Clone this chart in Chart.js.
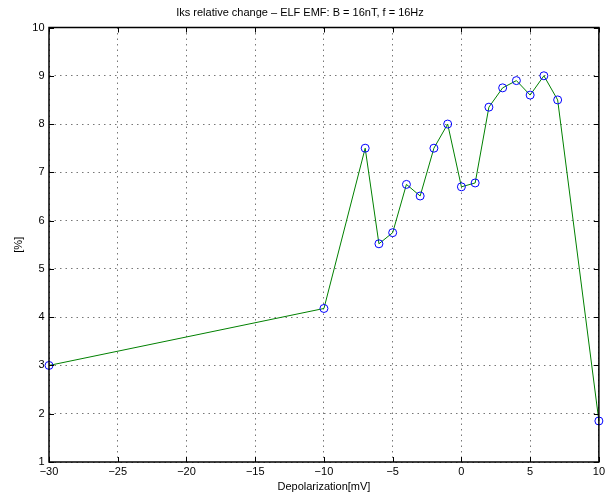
<!DOCTYPE html>
<html><head><meta charset="utf-8">
<script src="https://cdn.jsdelivr.net/npm/chart.js@4"></script>
<style>html,body{margin:0;padding:0;background:#fff}#w{width:608px;height:499px}</style>
</head><body><div id="w"><canvas id="c" width="608" height="499"></canvas></div>
<script>
const depolarization = [-30, -10, -7, -6, -5, -4, -3, -2, -1, 0, 1, 2, 3, 4, 5, 6, 7, 10];
const iksChange = [3.0, 4.18, 7.5, 5.52, 5.75, 6.75, 6.51, 7.5, 8.0, 6.7, 6.78, 8.35, 8.75, 8.9, 8.6, 9.0, 8.5, 1.85];
const xTicks = [-30, -25, -20, -15, -10, -5, 0, 5, 10];
const yTicks = [1, 2, 3, 4, 5, 6, 7, 8, 9, 10];
const titleText = 'Iks relative change \u2013 ELF EMF: B = 16nT, f = 16Hz';
const xLabel = 'Depolarization[mV]';
const yLabel = '[%]';

const FONT = 'Liberation Sans, Arial, Helvetica, sans-serif';
const fmt = v => (v < 0 ? '\u2212' + Math.abs(v) : String(v));

const boxPlugin = {
  id: 'box',
  afterDraw(chart) {
    const {ctx, chartArea: a, scales} = chart;
    ctx.save();
    ctx.strokeStyle = '#000';
    ctx.lineWidth = 1;
    ctx.setLineDash([]);
    const L = 5;
    ctx.beginPath();
    xTicks.forEach(v => {
      const x = Math.round(scales.x.getPixelForValue(v)) + 0.5;
      ctx.moveTo(x, a.bottom); ctx.lineTo(x, a.bottom - L);
      ctx.moveTo(x, a.top); ctx.lineTo(x, a.top + L);
    });
    yTicks.forEach(v => {
      const y = Math.round(scales.y.getPixelForValue(v)) + 0.5;
      ctx.moveTo(a.left, y); ctx.lineTo(a.left + L, y);
      ctx.moveTo(a.right, y); ctx.lineTo(a.right - L, y);
    });
    ctx.stroke();
    ctx.lineWidth = 1.5;
    ctx.strokeRect(a.left, a.top, a.right - a.left, a.bottom - a.top);
    ctx.restore();
  }
};

new Chart(document.getElementById('c'), {
  type: 'scatter',
  data: {
    datasets: [{
      data: depolarization.map((x, i) => ({x, y: iksChange[i]})),
      showLine: true,
      borderColor: '#008000',
      borderWidth: 1,
      pointStyle: 'circle',
      pointRadius: 4,
      pointBorderColor: '#0000ff',
      pointBackgroundColor: 'rgba(0,0,0,0)',
      pointBorderWidth: 1,
      tension: 0,
      clip: false
    }]
  },
  options: {
    responsive: false,
    animation: false,
    devicePixelRatio: 1,
    layout: {padding: {left: 0, right: 8, top: 0, bottom: 0}},
    plugins: {
      legend: {display: false},
      tooltip: {enabled: false},
      title: {
        display: true, text: titleText, color: '#000',
        font: {family: FONT, size: 11, weight: 'normal', lineHeight: 1.2},
        padding: {top: 6, bottom: 8.3}
      }
    },
    scales: {
      x: {
        type: 'linear', min: -30, max: 10,
        afterBuildTicks: s => { s.ticks = xTicks.map(v => ({value: v})); },
        afterFit: s => { s.height = 37; },
        ticks: {color: '#000', font: {family: FONT, size: 11}, padding: 3, maxRotation: 0, callback: v => fmt(v)},
        grid: {color: '#777', lineWidth: 1, drawTicks: false},
        border: {display: false, dash: [1.5, 4]},
        title: {display: true, text: xLabel, color: '#000', font: {family: FONT, size: 11}, padding: {top: 1, bottom: 5.4}}
      },
      y: {
        type: 'linear', min: 1, max: 10,
        afterBuildTicks: s => { s.ticks = yTicks.map(v => ({value: v})); },
        afterFit: s => { s.width = 49; },
        ticks: {color: '#000', font: {family: FONT, size: 11}, padding: 4.5, callback: v => fmt(v)},
        grid: {color: '#777', lineWidth: 1, drawTicks: false},
        border: {display: false, dash: [1.5, 4]},
        title: {display: true, text: yLabel, color: '#000', font: {family: FONT, size: 11}, padding: {top: 12.4, bottom: 0}}
      }
    }
  },
  plugins: [boxPlugin]
});
</script></body></html>
